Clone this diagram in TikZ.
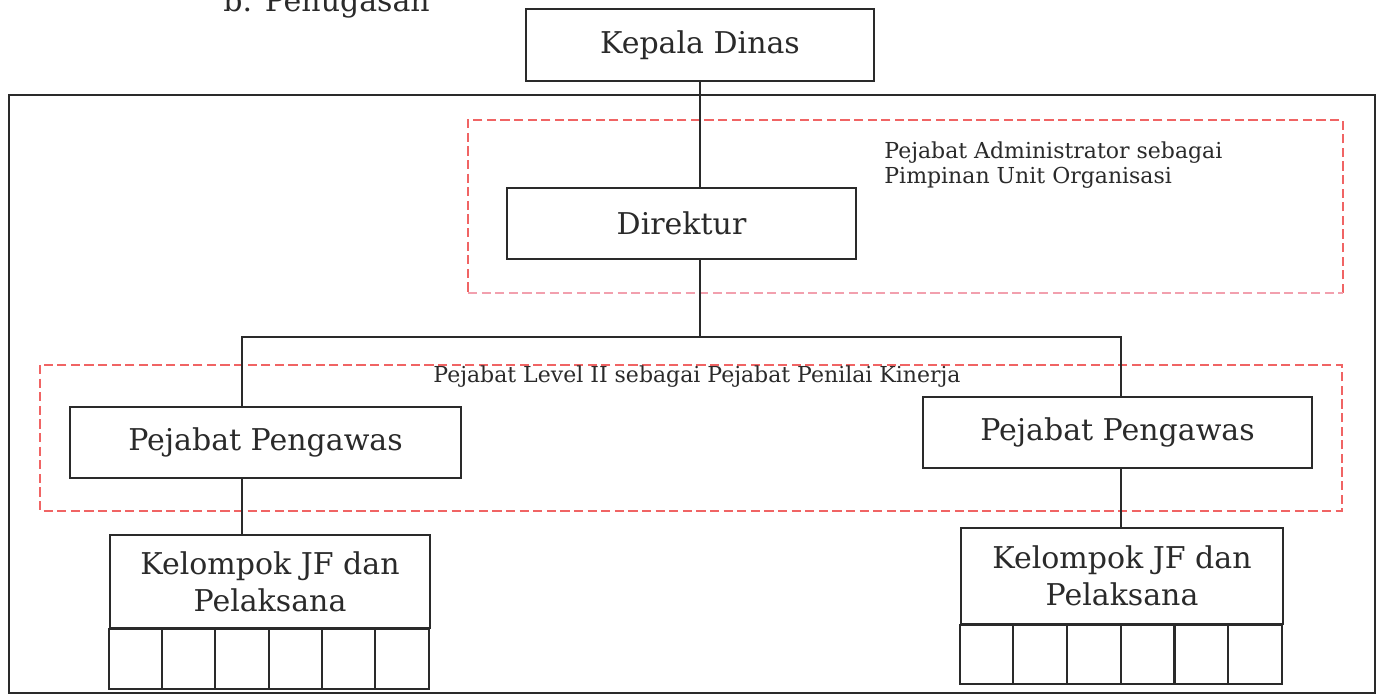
\documentclass[tikz,border=0pt]{standalone}
\usepackage{fontspec}
\usetikzlibrary{calc}
\setmainfont{DejaVu Serif}
\definecolor{ink}{HTML}{2A2A2A}
\definecolor{dashred}{HTML}{F06464}
\definecolor{dashpink}{HTML}{F2A0AE}
\begin{document}
\begin{tikzpicture}[x=0.5pt,y=-0.5pt,
  box/.style={draw=ink,line width=1.3pt,inner sep=0pt,align=center,
    text=ink,font=\fontsize{15}{18.5}\selectfont},
  conn/.style={draw=ink,line width=1.1pt},
  cell/.style={draw=ink,line width=1.1pt},
  zone/.style={draw=dashred,line width=1pt,dash pattern=on 4.6pt off 2.2pt},
  note/.style={text=ink,inner sep=0pt,font=\fontsize{11}{12.5}\selectfont}]
\useasboundingbox (0,0) rectangle (1379,697);

% heading (runs off the top edge)
\node[anchor=base west,text=ink,inner sep=0pt,font=\fontsize{15}{18.5}\selectfont]
  (title) at (223,11) {b. Penugasan};

% outer frame
\draw[draw=ink,line width=1.3pt] (9,95) rectangle (1375,693);

% dashed zones
\draw[zone] (1343,293) -- (1343,120) -- (468,120) -- (468,293);
\draw[zone,draw=dashpink] (468,293) -- (1343,293);
\draw[zone] (40,365) rectangle (1342,511);

% boxes
\node[box,minimum width=174pt,minimum height=36pt] (kd) at (700,45) {Kepala Dinas};
\node[box,minimum width=174.5pt,minimum height=35.5pt] (dir) at (681.5,223.5) {Direktur};
\node[box,minimum width=195.5pt,minimum height=35.5pt] (ppL) at (265.5,442.5) {Pejabat Pengawas};
\node[box,minimum width=194.5pt,minimum height=35.5pt] (ppR) at (1117.5,432.5) {Pejabat Pengawas};
\node[box,minimum width=160pt,minimum height=46.5pt] (kjL) at (270,581.5) {Kelompok JF dan\\Pelaksana};
\node[box,minimum width=161pt,minimum height=48pt] (kjR) at (1122,576) {Kelompok JF dan\\Pelaksana};

% member cells under each group
\draw[cell] (kjL.south west) rectangle ++(320,60);
\foreach \i in {1,...,5}
  \draw[cell] ($(kjL.south west)+(\i*53.33,0)$) -- ++(0,60);
\draw[cell] (kjR.south west) rectangle ++(322,59);
\foreach \i in {1,...,5}
  \draw[cell] ($(kjR.south west)+(\i*53.67,0)$) -- ++(0,59);

% connectors
\coordinate (hub) at (700,337);
\coordinate (hubL) at (242,337);
\coordinate (hubR) at (1121,337);
\draw[conn] (kd.south) -- (kd.south |- dir.north);
\draw[conn] (dir.south -| hub) -- (hub);
\draw[conn] (hubL |- ppL.north) -- (hubL) -- (hubR) -- (hubR |- ppR.north);
\draw[conn] (ppL.south -| hubL) -- (hubL |- kjL.north);
\draw[conn] (ppR.south -| hubR) -- (hubR |- kjR.north);

% zone captions
\node[note,anchor=west,align=left] (admin) at (884,165)
  {Pejabat Administrator sebagai\\Pimpinan Unit Organisasi};
\node[note] (level) at (697,377) {Pejabat Level II sebagai Pejabat Penilai Kinerja};
\end{tikzpicture}
\end{document}
